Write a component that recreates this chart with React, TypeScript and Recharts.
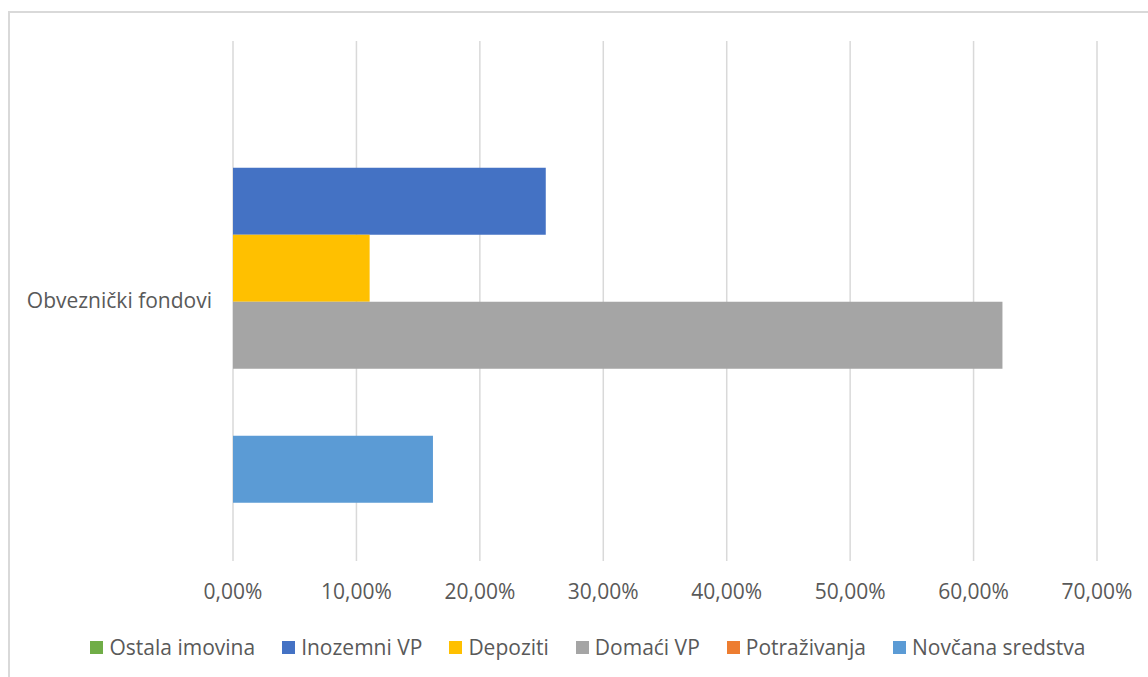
import { BarChart, Bar, XAxis, YAxis, CartesianGrid } from 'recharts';

// Struktura ulaganja obvezničkih fondova

const categories = ['Obveznički fondovi'];

const seriesNames = ['Ostala imovina', 'Inozemni VP', 'Depoziti', 'Domaći VP', 'Potraživanja', 'Novčana sredstva'];
const seriesKeys = ['ostala', 'inozemni', 'depoziti', 'domaci', 'potrazivanja', 'novcana'];
const seriesColors = ['#70ad47', '#4472c4', '#ffc000', '#a5a5a5', '#ed7d31', '#5b9bd5'];

const ostalaImovina = [0];
const inozemniVP = [0.2534];
const depoziti = [0.1107];
const domaciVP = [0.6234];
const potrazivanja = [0];
const novcanaSredstva = [0.162];

const xTicks = [0, 0.1, 0.2, 0.3, 0.4, 0.5, 0.6, 0.7];

const FONT = '"Open Sans", "Noto Sans", sans-serif';
const FONT_SIZE = 21;
const TEXT_COLOR = '#595959';

const seriesValues = [ostalaImovina, inozemniVP, depoziti, domaciVP, potrazivanja, novcanaSredstva];

const data = categories.map((name, i) => {
  const row: Record<string, string | number> = { name };
  seriesKeys.forEach((key, s) => {
    row[key] = seriesValues[s][i];
  });
  return row;
});

const formatPercent = (v: number) => `${(v * 100).toFixed(2).replace('.', ',')}%`;

export default function App() {
  return (
    <div style={{ position: 'absolute', left: 0, top: 0, width: 1148, height: 677, overflow: 'hidden', background: '#fff' }}>
      {/* chart frame */}
      <div
        style={{
          position: 'absolute',
          left: 8,
          top: 11,
          width: 1200,
          height: 700,
          border: '2px solid #d9d9d9',
        }}
      />
      <div style={{ position: 'absolute', left: 0, top: 0 }}>
        <BarChart
          width={1148}
          height={677}
          data={data}
          layout="vertical"
          margin={{ top: 41, right: 51, left: 0, bottom: 0 }}
          barCategoryGap="11.5%"
          barGap={0}
        >
          <CartesianGrid horizontal={false} stroke="#d9d9d9" strokeWidth={1.5} />
          <XAxis
            type="number"
            domain={[0, 0.7]}
            ticks={xTicks}
            tickFormatter={formatPercent}
            axisLine={false}
            tickLine={false}
            tickMargin={17}
            tick={{ fill: TEXT_COLOR, fontSize: FONT_SIZE, fontFamily: FONT }}
            height={116}
          />
          <YAxis
            type="category"
            dataKey="name"
            width={233}
            axisLine={false}
            tickLine={false}
            tickMargin={15}
            tick={{ fill: TEXT_COLOR, fontSize: FONT_SIZE, fontFamily: FONT }}
          />
          {seriesKeys.map((key, i) => (
            <Bar key={key} dataKey={key} name={seriesNames[i]} fill={seriesColors[i]} isAnimationActive={false} />
          ))}
        </BarChart>
      </div>
      {/* legend */}
      <div
        style={{
          position: 'absolute',
          left: 0,
          top: 632,
          width: 1176,
          height: 30,
          display: 'flex',
          justifyContent: 'center',
          alignItems: 'center',
          gap: 27,
          fontFamily: FONT,
          fontSize: FONT_SIZE,
          color: TEXT_COLOR,
          whiteSpace: 'nowrap',
        }}
      >
        {seriesNames.map((name, i) => (
          <div key={name} style={{ display: 'flex', alignItems: 'center' }}>
            <div style={{ width: 13, height: 13, background: seriesColors[i], marginRight: 6 }} />
            <span>{name}</span>
          </div>
        ))}
      </div>
    </div>
  );
}
